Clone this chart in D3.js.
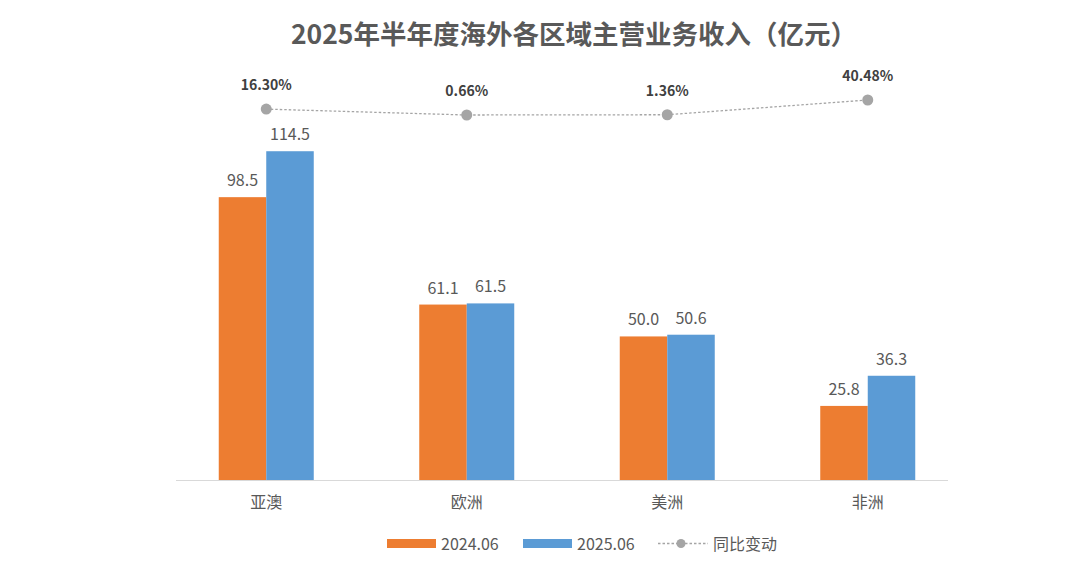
<!DOCTYPE html>
<html lang="zh">
  <head>
    <meta charset="UTF-8" />
    <title>2025年半年度海外各区域主营业务收入</title>
    <style>
      html, body { margin: 0; padding: 0; background: #fff; }
      svg { display: block; font-family: "Noto Sans CJK SC", "Noto Sans", sans-serif; }
    </style>
  </head>
  <body>
    <svg width="1080" height="582"></svg>

    <script src="https://d3js.org/d3.v7.min.js"></script>
    <script>
      // Data
      const categories = ["亚澳", "欧洲", "美洲", "非洲"];
      const seriesNames = ["2024.06", "2025.06"];
      const values2024 = [98.5, 61.1, 50.0, 25.8];
      const values2025 = [114.5, 61.5, 50.6, 36.3];
      const yoyChange = [16.3, 0.66, 1.36, 40.48]; // %
      const lineName = "同比变动";

      const w = 1080;
      const h = 582;
      const colors = { "2024.06": "#ED7D31", "2025.06": "#5B9BD5" };
      const lineColor = "#A5A5A5";
      const textColor = "#595959";

      const svg = d3.select("svg").attr("viewBox", `0 0 ${w} ${h}`);

      // Title
      svg
        .append("text")
        .attr("x", 574)
        .attr("y", 44)
        .attr("text-anchor", "middle")
        .attr("font-size", 26.5)
        .attr("font-weight", "bold")
        .attr("fill", textColor)
        .text("2025年半年度海外各区域主营业务收入（亿元）");

      // Scales
      const xScale = d3.scaleBand().domain(categories).range([166, 968]);
      const barW = 47.5;
      const xSub = d3
        .scaleBand()
        .domain(seriesNames)
        .range([xScale.bandwidth() / 2 - barW, xScale.bandwidth() / 2 + barW]);

      const yScale = d3.scaleLinear().domain([0, 140]).range([480, 78]);
      // secondary axis for the YoY line
      const y2Scale = d3.scaleLinear().domain([0, 40.48]).range([115.25, 100]);

      const rows = categories.map((c, i) => ({
        cat: c,
        vals: [
          { key: seriesNames[0], v: values2024[i] },
          { key: seriesNames[1], v: values2025[i] },
        ],
        yoy: yoyChange[i],
      }));

      // Bars
      const groups = svg
        .selectAll("g.group")
        .data(rows)
        .enter()
        .append("g")
        .attr("class", "group")
        .attr("transform", (d) => `translate(${xScale(d.cat)},0)`);

      groups
        .selectAll("rect")
        .data((d) => d.vals)
        .enter()
        .append("rect")
        .attr("x", (d) => xSub(d.key))
        .attr("y", (d) => yScale(d.v))
        .attr("width", xSub.bandwidth())
        .attr("height", (d) => yScale(0) - yScale(d.v))
        .attr("fill", (d) => colors[d.key]);

      groups
        .selectAll("text.val")
        .data((d) => d.vals)
        .enter()
        .append("text")
        .attr("class", "val")
        .attr("x", (d) => xSub(d.key) + xSub.bandwidth() / 2)
        .attr("y", (d) => yScale(d.v) - 11)
        .attr("text-anchor", "middle")
        .attr("font-size", 16)
        .attr("fill", textColor)
        .text((d) => d.v.toFixed(1));

      // X axis
      const xAxis = d3.axisBottom(xScale).tickSize(0).tickPadding(17);
      const gx = svg
        .append("g")
        .attr("transform", `translate(0,${yScale(0)})`)
        .call(xAxis);
      gx.select(".domain").remove();
      gx.selectAll("text")
        .attr("font-size", 16)
        .attr("font-family", '"Noto Sans CJK SC", sans-serif')
        .attr("fill", textColor);
      svg
        .append("line")
        .attr("x1", 176)
        .attr("x2", 948)
        .attr("y1", yScale(0) + 0.5)
        .attr("y2", yScale(0) + 0.5)
        .attr("stroke", "#D9D9D9")
        .attr("stroke-width", 1);

      // YoY line
      const cx = (d) => xScale(d.cat) + xScale.bandwidth() / 2;
      const line = d3
        .line()
        .x(cx)
        .y((d) => y2Scale(d.yoy));

      svg
        .append("path")
        .datum(rows)
        .attr("d", line)
        .attr("fill", "none")
        .attr("stroke", lineColor)
        .attr("stroke-width", 1.3)
        .attr("stroke-dasharray", "2.5,2");

      svg
        .selectAll("circle.pt")
        .data(rows)
        .enter()
        .append("circle")
        .attr("class", "pt")
        .attr("cx", cx)
        .attr("cy", (d) => y2Scale(d.yoy))
        .attr("r", 5.5)
        .attr("fill", lineColor);

      svg
        .selectAll("text.pct")
        .data(rows)
        .enter()
        .append("text")
        .attr("class", "pct")
        .attr("x", cx)
        .attr("y", (d) => y2Scale(d.yoy) - 19)
        .attr("text-anchor", "middle")
        .attr("font-size", 14)
        .attr("font-weight", "bold")
        .attr("fill", "#404040")
        .text((d) => d.yoy.toFixed(2) + "%");

      // Legend
      const legend = svg.append("g").attr("font-size", 16).attr("fill", textColor);
      const legX = [387, 523];
      seriesNames.forEach((s, i) => {
        legend
          .append("rect")
          .attr("x", legX[i])
          .attr("y", 539)
          .attr("width", 49)
          .attr("height", 9)
          .attr("fill", colors[s]);
        legend
          .append("text")
          .attr("x", legX[i] + 54)
          .attr("y", 544)
          .attr("dy", "0.35em")
          .text(s);
      });
      legend
        .append("line")
        .attr("x1", 658)
        .attr("x2", 708)
        .attr("y1", 543.5)
        .attr("y2", 543.5)
        .attr("stroke", lineColor)
        .attr("stroke-width", 1.3)
        .attr("stroke-dasharray", "2.5,2");
      legend
        .append("circle")
        .attr("cx", 681)
        .attr("cy", 543.5)
        .attr("r", 4.5)
        .attr("fill", lineColor);
      legend
        .append("text")
        .attr("x", 713)
        .attr("y", 544)
        .attr("dy", "0.35em")
        .text(lineName);
    </script>
  </body>
</html>
